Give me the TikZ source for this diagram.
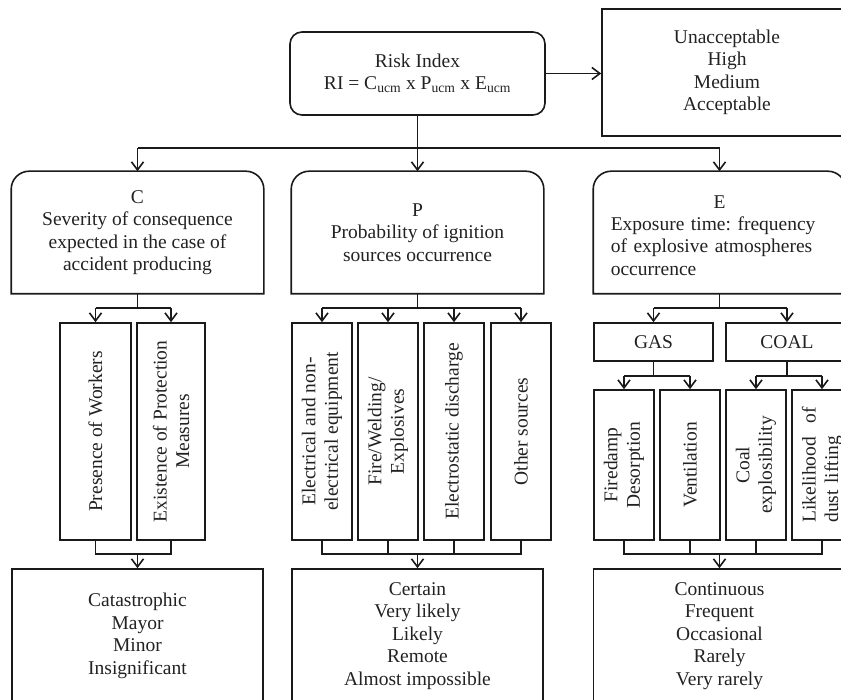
\documentclass[tikz,border=0pt]{standalone}
\usepackage{fontspec}
\setmainfont{Liberation Serif}
\usetikzlibrary{arrows.meta}
\definecolor{ink}{HTML}{1A1A1A}
\definecolor{txt}{HTML}{222222}
\frenchspacing

\begin{document}
\begin{tikzpicture}[x=1pt,y=1pt,
  line width=1.6pt, color=ink,
  every node/.style={font=\fontsize{19.5}{22.5}\selectfont, text=txt, inner sep=0pt},
  box/.style={draw=ink, rectangle, align=center},
  shell/.style={rectangle, align=center},
  arr/.style={-{Straight Barb[length=8pt,width=12pt]}},
  lbl/.style={rotate=90, align=center},
]
\useasboundingbox (0,0) rectangle (841,-700);
\clip (0,0) rectangle (841,-700);

% ---- top: risk index and its classes
\node[box, rounded corners=12pt, minimum width=255pt, minimum height=83pt] (risk) at (417.5,-73.5)
  {Risk Index\\RI = C\textsubscript{ucm} x P\textsubscript{ucm} x E\textsubscript{ucm}};
\node[box, minimum width=250pt, minimum height=127pt] (levels) at (727,-72.5)
  {Unacceptable\\High\\Medium\\Acceptable};

% ---- the three factors (boxes rounded on top only)
\node[shell, minimum width=251pt, minimum height=121pt] (C) at (137.5,-232.5)
  {C\\Severity of consequence\\expected in the case of\\accident producing};
\node[shell, minimum width=251pt, minimum height=121pt] (P) at (417.5,-232.5)
  {P\\Probability of ignition\\sources occurrence};
\node[shell, minimum width=251pt, minimum height=121pt] (E) at (719.5,-232.5) {};
\node (Ehead) at (719.5,-202) {E};
\node[anchor=west, text width=215pt, align=left] (Ebody) at (610,-246)
  {Exposure time: frequency\\of explosive atmospheres\\occurrence};
\foreach \n in {C,P,E}
  \draw (\n.south west) -- ([yshift=-18pt]\n.north west)
        arc[start angle=180,end angle=90,radius=18pt]
        -- ([xshift=-18pt]\n.north east)
        arc[start angle=90,end angle=0,radius=18pt]
        -- (\n.south east) -- cycle;

% ---- C parameters
\node[box, minimum width=71pt, minimum height=217pt] (pw) at (95.5,-431.5) {};
\node[lbl] (pwt) at (pw) {Presence of Workers};
\node[box, minimum width=68pt, minimum height=217pt] (ep) at (171,-431.5) {};
\node[lbl] (ept) at (ep) {Existence of Protection\\Measures};

% ---- P parameters
\foreach \i/\x in {1/322,2/388,3/454,4/521}
  \node[box, minimum width=60pt, minimum height=217pt] (p\i) at (\x,-431.5) {};
\node[lbl] (p1t) at (p1) {Electrical and non-\\electrical equipment};
\node[lbl] (p2t) at (p2) {Fire/Welding/\\Explosives};
\node[lbl] (p3t) at (p3) {Electrostatic discharge};
\node[lbl] (p4t) at (p4) {Other sources};

% ---- E parameters
\node[box, minimum width=119pt, minimum height=38pt] (gas) at (653.5,-342) {GAS};
\node[box, minimum width=122pt, minimum height=38pt] (coal) at (787,-342) {COAL};
\foreach \i/\x in {1/624,2/690,3/756,4/822}
  \node[box, minimum width=60pt, minimum height=150pt] (f\i) at (\x,-465) {};
\node[lbl] (f1t) at (f1) {Firedamp\\Desorption};
\node[lbl] (f2t) at (f2) {Ventilation};
\node[lbl] (f3t) at (f3) {Coal\\explosibility};
\node[rotate=90, align=left, text width=115pt] (f4t) at (f4) {Likelihood\hfill of\\dust lifting};

% ---- scales
\node[box, minimum width=251pt, minimum height=134pt] (Cout) at (137.5,-636)
  {Catastrophic\\Mayor\\Minor\\Insignificant};
\node[box, minimum width=251pt, minimum height=134pt] (Pout) at (417.5,-636)
  {Certain\\Very likely\\Likely\\Remote\\Almost impossible};
\node[box, minimum width=252pt, minimum height=134pt] (Eout) at (719.5,-636)
  {Continuous\\Frequent\\Occasional\\Rarely\\Very rarely};

% ---- connectors: risk index to factors
\draw[arr] (risk.east) -- (risk.east -| levels.west);
\coordinate (bus) at (417.5,-148);
\draw (risk.south) -- (bus);
\draw (C.north |- bus) -- (E.north |- bus);
\foreach \n in {C,P,E} \draw[arr] (\n.north |- bus) -- (\n.north);

% ---- factors to parameters
\coordinate (cbus) at (137.5,-308);
\coordinate (pbus) at (417.5,-308);
\coordinate (ebus) at (719.5,-308);
\draw (C.south) -- (cbus);
\draw (pw.north |- cbus) -- (ep.north |- cbus);
\foreach \n in {pw,ep} \draw[arr] (\n.north |- cbus) -- (\n.north);
\draw (P.south) -- (pbus);
\draw (p1.north |- pbus) -- (p4.north |- pbus);
\foreach \i in {1,...,4} \draw[arr] (p\i.north |- pbus) -- (p\i.north);
\draw (E.south) -- (ebus);
\draw (gas.north |- ebus) -- (coal.north |- ebus);
\foreach \n in {gas,coal} \draw[arr] (\n.north |- ebus) -- (\n.north);
\coordinate (gbus) at (653.5,-376);
\coordinate (kbus) at (787,-376);
\draw (gas.south) -- (gbus);
\draw (f1.north |- gbus) -- (f2.north |- gbus);
\foreach \i in {1,2} \draw[arr] (f\i.north |- gbus) -- (f\i.north);
\draw (coal.south) -- (kbus);
\draw (f3.north |- kbus) -- (f4.north |- kbus);
\foreach \i in {3,4} \draw[arr] (f\i.north |- kbus) -- (f\i.north);

% ---- parameters merge into the scales
\coordinate (cm) at (137.5,-554);
\coordinate (pm) at (417.5,-554);
\coordinate (em) at (719.5,-554);
\draw (pw.south) -- (pw.south |- cm) -- (ep.south |- cm) -- (ep.south);
\draw[arr] (cm) -- (Cout.north);
\draw (p1.south) -- (p1.south |- pm) -- (p4.south |- pm) -- (p4.south);
\foreach \i in {2,3} \draw (p\i.south) -- (p\i.south |- pm);
\draw[arr] (pm) -- (Pout.north);
\draw (f1.south) -- (f1.south |- em) -- (f4.south |- em) -- (f4.south);
\foreach \i in {2,3} \draw (f\i.south) -- (f\i.south |- em);
\draw[arr] (em) -- (Eout.north);
\end{tikzpicture}
\end{document}
